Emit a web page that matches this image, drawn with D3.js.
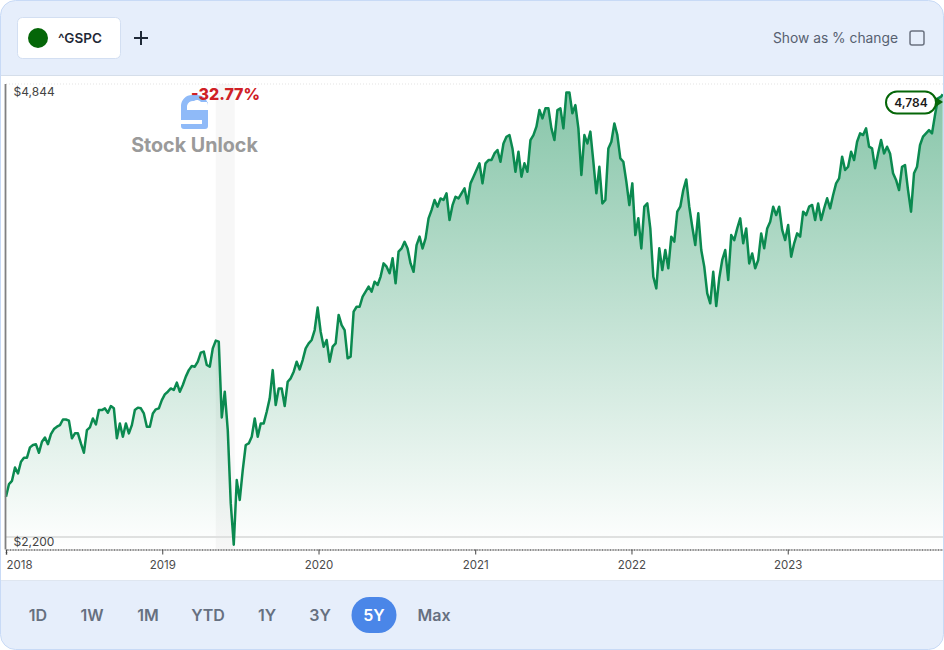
<!DOCTYPE html>
<html>
<head>
<meta charset="utf-8">
<script src="https://cdn.jsdelivr.net/npm/d3@7"></script>
<style>
  html, body { margin: 0; padding: 0; background: #fff; }
  svg { display: block; font-family: Inter, "Noto Sans", sans-serif; }
</style>
</head>
<body>
<div id="chart"></div>
<script>
// S&P 500 closes, one per week from the first Monday of 2018
const weeklyClose = [
  2435, 2509, 2528, 2606, 2571, 2639, 2663, 2663, 2723, 2737, 2741, 2692, 2756,
  2781, 2742, 2801, 2830, 2844, 2853, 2886, 2886, 2879, 2776, 2805, 2805, 2746,
  2692, 2824, 2840, 2892, 2857, 2941, 2941, 2951, 2925, 2964, 2951, 2776, 2863,
  2785, 2863, 2805, 2853, 2941, 2955, 2951, 2921, 2844, 2844, 2921, 2945, 2951,
  2999, 3032, 3048, 3067, 3058, 3101, 3048, 3087, 3136, 3174, 3198, 3194, 3223,
  3276, 3282, 3204, 3194, 3301, 3346, 3340, 2898, 3048, 2824, 2396, 2155, 2532,
  2416, 2591, 2737, 2746, 2785, 2892, 2785, 2863, 2863, 2931, 3009, 3174, 2970,
  3067, 3067, 2964, 3106, 3126, 3165, 3223, 3178, 3233, 3301, 3330, 3350, 3408,
  3539, 3398, 3311, 3350, 3223, 3311, 3330, 3496, 3437, 3408, 3243, 3253, 3515,
  3544, 3544, 3603, 3632, 3661, 3632, 3690, 3671, 3720, 3797, 3778, 3739, 3827,
  3681, 3866, 3884, 3923, 3884, 3797, 3748, 3904, 3953, 3884, 3943, 4060, 4108,
  4167, 4128, 4176, 4167, 4206, 4050, 4137, 4186, 4176, 4206, 4235, 4147, 4264,
  4303, 4342, 4381, 4264, 4381, 4400, 4400, 4439, 4459, 4390, 4497, 4536, 4546,
  4468, 4332, 4449, 4303, 4381, 4332, 4517, 4546, 4595, 4692, 4643, 4702, 4702,
  4585, 4517, 4692, 4702, 4585, 4795, 4795, 4673, 4721, 4585, 4313, 4546, 4497,
  4566, 4390, 4206, 4361, 4147, 4167, 4468, 4507, 4614, 4546, 4410, 4390, 4274,
  4137, 4264, 3962, 4060, 3884, 4128, 4147, 4001, 3719, 3651, 3885, 3758, 3875,
  3768, 3953, 3924, 4099, 4128, 4225, 4287, 4128, 4011, 3904, 4089, 3875, 3778,
  3622, 3564, 3748, 3548, 3710, 3817, 3875, 3700, 3962, 3933, 4001, 4060, 3914,
  4001, 3797, 3855, 3768, 3817, 3972, 3885, 4001, 4040, 4128, 4079, 4128, 3992,
  3933, 4021, 3836, 3914, 3972, 3953, 4099, 4079, 4128, 4138, 4050, 4147, 4050,
  4118, 4177, 4118, 4196, 4264, 4293, 4420, 4342, 4361, 4449, 4400, 4507, 4556,
  4546, 4585, 4478, 4468, 4352, 4439, 4517, 4439, 4478, 4439, 4323, 4284, 4225,
  4361, 4371, 4225, 4099, 4323, 4361, 4488, 4537, 4556, 4575, 4556, 4663, 4760,
  4770, 4784
];
const yTickValues = [2200, 4844];
const yearTicks = [2018, 2019, 2020, 2021, 2022, 2023];
const rangeLabels = ["1D", "1W", "1M", "YTD", "1Y", "3Y", "5Y", "Max"];
const rangeCenters = [38, 92, 148, 208, 267, 320, 374, 434];
const selectedRange = "5Y";
const crashStartWeek = 70;
const crashEndWeek = 76;
const crashLabel = "-32.77%";
const tickerName = "^GSPC";
const lastValueLabel = "4,784";

const width = 944;
const height = 650;
const green = "#0b8a50";
const darkGreen = "#056608";
const panelBlue = "#e6eefb";

const dates = d3.utcMonday.range(new Date(Date.UTC(2018, 0, 1)), new Date(Date.UTC(2024, 0, 1)));
dates.push(new Date(Date.UTC(2023, 11, 29)));
const series = dates.map((date, i) => ({ date, close: weeklyClose[i] }));

const x = d3.scaleUtc()
  .domain([new Date(Date.UTC(2018, 0, 1)), new Date(Date.UTC(2024, 0, 1))])
  .range([6, 944]);
const y = d3.scaleLinear().domain([2200, 4844]).range([537, 84]);
const axisY = 549.5;

const svg = d3.select("#chart").append("svg")
  .attr("width", width)
  .attr("height", height)
  .attr("viewBox", `0 0 ${width} ${height}`);

const defs = svg.append("defs");
defs.append("clipPath").attr("id", "frame")
  .append("rect").attr("x", 0.5).attr("y", 0.5)
  .attr("width", width - 1).attr("height", height - 1).attr("rx", 15);
const grad = defs.append("linearGradient").attr("id", "area-fill")
  .attr("gradientUnits", "userSpaceOnUse")
  .attr("x1", 0).attr("x2", 0).attr("y1", 84).attr("y2", axisY);
grad.append("stop").attr("offset", 0).attr("stop-color", green).attr("stop-opacity", 0.5);
grad.append("stop").attr("offset", 1).attr("stop-color", green).attr("stop-opacity", 0);

const page = svg.append("g").attr("clip-path", "url(#frame)");
page.append("rect").attr("width", width).attr("height", 76).attr("fill", panelBlue);
page.append("rect").attr("y", 580).attr("width", width).attr("height", 70).attr("fill", panelBlue);
page.append("line").attr("x1", 0).attr("x2", width).attr("y1", 75.5).attr("y2", 75.5).attr("stroke", "#d5deea");
page.append("line").attr("x1", 0).attr("x2", width).attr("y1", 580.5).attr("y2", 580.5).attr("stroke", "#dfe6f0");

// header
page.append("rect").attr("x", 17.5).attr("y", 17.5).attr("width", 103).attr("height", 41)
  .attr("rx", 5).attr("fill", "#fff").attr("stroke", "#d3dff2");
page.append("circle").attr("cx", 38).attr("cy", 38).attr("r", 10).attr("fill", darkGreen);
page.append("text").attr("x", 58).attr("y", 42.5).attr("font-size", 13.5).attr("font-weight", 600)
  .attr("fill", "#1f2937").text(tickerName);
page.append("path").attr("d", "M134 38H148M141 31V45").attr("stroke", "#1f2937").attr("stroke-width", 2);
page.append("text").attr("x", 898).attr("y", 43).attr("text-anchor", "end").attr("font-size", 13.8)
  .attr("fill", "#566070").text("Show as % change");
page.append("rect").attr("x", 910).attr("y", 31).attr("width", 14).attr("height", 14).attr("rx", 2)
  .attr("fill", "none").attr("stroke", "#6b7280").attr("stroke-width", 1.5);

// plot background bits
page.append("rect")
  .attr("x", x(dates[crashStartWeek])).attr("y", y(4844))
  .attr("width", x(dates[crashEndWeek]) - x(dates[crashStartWeek]) + 1)
  .attr("height", axisY - y(4844))
  .attr("fill", "#f7f7f7");
page.append("line").attr("x1", 6).attr("x2", width).attr("y1", y(4844)).attr("y2", y(4844))
  .attr("stroke", "#e3e3e3").attr("stroke-dasharray", "1,2");
page.append("line").attr("x1", 6).attr("x2", width).attr("y1", y(2200)).attr("y2", y(2200))
  .attr("stroke", "#e2e2e2").attr("stroke-width", 2);

const area = d3.area().x((d) => x(d.date)).y0(axisY).y1((d) => y(d.close));
const line = d3.line().x((d) => x(d.date)).y((d) => y(d.close));
page.append("path").datum(series).attr("d", area).attr("fill", "url(#area-fill)");
page.append("path").datum(series).attr("d", line).attr("fill", "none")
  .attr("stroke", green).attr("stroke-width", 2.5).attr("stroke-linejoin", "round");

// axes
const xAxis = d3.axisBottom(x)
  .tickValues(yearTicks.map((yr) => new Date(Date.UTC(yr, 0, 1))))
  .tickFormat(d3.utcFormat("%Y"))
  .tickSize(5)
  .tickPadding(6);
const xGroup = page.append("g").attr("transform", `translate(0,${axisY})`).call(xAxis);
xGroup.select(".domain").attr("stroke", "#8a8a8a").attr("stroke-width", 2).attr("stroke-dasharray", "1,0.6");
xGroup.selectAll(".tick line").attr("stroke", "#444");
xGroup.selectAll(".tick text").attr("font-family", "Inter, sans-serif").attr("font-size", 11.5).attr("fill", "#4b4b4b");
xGroup.selectAll(".tick text").filter((d, i) => i === 0).attr("text-anchor", "start");

const yAxis = d3.axisLeft(y).tickValues(yTickValues).tickSize(0).tickFormat("");
const yGroup = page.append("g").attr("transform", "translate(5.5,0)").call(yAxis);
yGroup.select(".domain").attr("stroke", "#808080").attr("stroke-width", 1.8)
  .attr("d", `M0,${y(4844)}V${axisY}`);
page.selectAll("text.y-label").data(yTickValues).join("text")
  .attr("class", "y-label")
  .attr("x", 13.5)
  .attr("y", (d) => y(d) + (d === 4844 ? 11.5 : 8.5))
  .attr("font-size", 12)
  .attr("fill", "#444")
  .text((d) => "$" + d3.format(",")(d));

// watermark
const logo = page.append("g").attr("fill", "#8fbaf8");
logo.append("path").attr("d", "M181 120V106A11 11 0 0 1 192 95H197A11 11 0 0 1 208 106V102H201A5 5 0 0 0 194 101A6 6 0 0 0 187 106V110H208V120Z");
logo.append("path").attr("d", "M181 124H202V120H208V126A3 3 0 0 1 205 129H184A3 3 0 0 1 181 126Z");
page.append("text").attr("x", 194.5).attr("y", 152).attr("text-anchor", "middle")
  .attr("font-size", 19.7).attr("font-weight", 700).attr("fill", "#9a9a9a").text("Stock Unlock");
page.append("text").attr("x", 225.5).attr("y", 100).attr("text-anchor", "middle")
  .attr("font-size", 16).attr("font-weight", 800).attr("fill", "#cf2026").text(crashLabel);

// last value flag
page.append("path").attr("d", "M934 96L943 102L934 108Z").attr("fill", darkGreen);
page.append("rect").attr("x", 886).attr("y", 91.5).attr("width", 50).attr("height", 22).attr("rx", 11)
  .attr("fill", "#fff").attr("stroke", darkGreen).attr("stroke-width", 2);
page.append("text").attr("x", 911).attr("y", 107).attr("text-anchor", "middle").attr("font-size", 12)
  .attr("font-weight", 600).attr("fill", "#1a1a1a").text(lastValueLabel);

// range buttons
page.append("rect")
  .attr("x", rangeCenters[rangeLabels.indexOf(selectedRange)] - 22.5)
  .attr("y", 597).attr("width", 45).attr("height", 36).attr("rx", 18).attr("fill", "#4a86e8");
page.selectAll("text.range").data(rangeLabels).join("text")
  .attr("class", "range")
  .attr("x", (d, i) => rangeCenters[i])
  .attr("y", 621)
  .attr("text-anchor", "middle")
  .attr("font-size", 16)
  .attr("font-weight", 600)
  .attr("fill", (d) => (d === selectedRange ? "#fff" : "#667080"))
  .text((d) => d);

// outer border
svg.append("rect").attr("x", 0.5).attr("y", 0.5).attr("width", width - 1).attr("height", height - 1)
  .attr("rx", 15).attr("fill", "none").attr("stroke", "#c8daf6");
</script>
</body>
</html>
